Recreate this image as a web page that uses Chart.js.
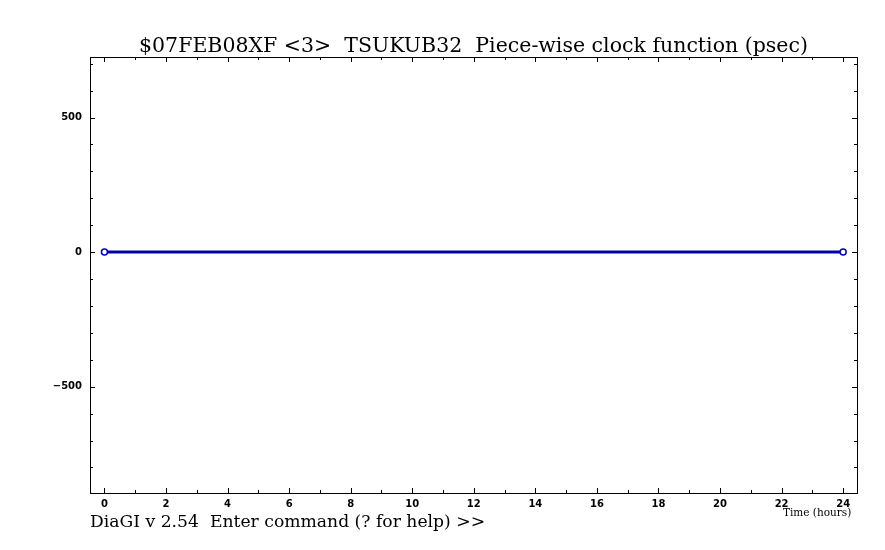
<!DOCTYPE html>
<html>
<head>
<meta charset="utf-8">
<script src="https://cdn.jsdelivr.net/npm/chart.js@4.4.1/dist/chart.umd.min.js"></script>
<style>
  html, body { margin: 0; padding: 0; background: #fff; }
  #wrap { width: 885px; height: 550px; }
</style>
</head>
<body>
<div id="wrap"><canvas id="clockCanvas" width="885" height="550"></canvas></div>
<script>
// Piece-wise clock function, two nodes
const timeHours = [0, 24];
const clockPsec = [0, 0];

const xTickValues = [0, 2, 4, 6, 8, 10, 12, 14, 16, 18, 20, 22, 24];
const yTickValues = [-500, 0, 500];

const titleText = '$07FEB08XF <3>  TSUKUB32  Piece-wise clock function (psec)';
const xAxisText = 'Time (hours)';
const promptText = 'DiaGI v 2.54  Enter command (? for help) >>';

// frame, inward tick marks and the texts around the plot
const diagiFrame = {
    id: 'diagiFrame',
    afterDraw(chart) {
        const ctx = chart.ctx;
        const a = chart.chartArea;
        const xs = chart.scales.x;
        const ys = chart.scales.y;
        ctx.save();
        ctx.strokeStyle = '#000';
        ctx.lineWidth = 1;
        ctx.strokeRect(a.left + 0.5, a.top + 0.5, a.right - a.left, a.bottom - a.top);

        ctx.beginPath();
        for (let v = 0; v <= 24; v++) {
            const px = Math.round(xs.getPixelForValue(v)) + 0.5;
            const len = (v % 2 === 0) ? 5 : 3;
            ctx.moveTo(px, a.bottom);
            ctx.lineTo(px, a.bottom - len);
            ctx.moveTo(px, a.top);
            ctx.lineTo(px, a.top + len);
        }
        for (let v = -800; v <= 700; v += 100) {
            const py = Math.round(ys.getPixelForValue(v)) + 0.5;
            const len = (v % 500 === 0) ? 5 : 3;
            ctx.moveTo(a.left, py);
            ctx.lineTo(a.left + len, py);
            ctx.moveTo(a.right, py);
            ctx.lineTo(a.right - len, py);
        }
        ctx.stroke();

        ctx.fillStyle = '#000';
        ctx.textBaseline = 'alphabetic';
        ctx.font = '20.5px "DejaVu Serif"';
        ctx.textAlign = 'center';
        ctx.fillText(titleText, (a.left + a.right) / 2, 52);

        ctx.font = '10.5px "DejaVu Serif"';
        ctx.textAlign = 'left';
        ctx.fillText(xAxisText, 783, 516);

        ctx.font = '17.2px "DejaVu Serif"';
        ctx.fillText(promptText, 90, 527);
        ctx.restore();
    }
};

const ctx = document.getElementById('clockCanvas').getContext('2d');
const chart = new Chart(ctx, {
    type: 'line',
    data: {
        datasets: [{
            data: timeHours.map((t, i) => ({ x: t, y: clockPsec[i] })),
            borderColor: '#0000a8',
            borderWidth: 3,
            pointRadius: 3,
            pointBorderWidth: 1.5,
            pointBorderColor: '#0000c8',
            pointBackgroundColor: '#ffffff',
            fill: false,
            clip: false
        }]
    },
    options: {
        responsive: false,
        animation: false,
        layout: { padding: { top: 57, right: 28, left: 0, bottom: 0 } },
        plugins: {
            legend: { display: false },
            tooltip: { enabled: false }
        },
        scales: {
            x: {
                type: 'linear',
                min: -0.47,
                max: 24.45,
                grid: { display: false, drawTicks: false, tickLength: 0 },
                border: { display: false },
                afterBuildTicks: s => { s.ticks = xTickValues.map(v => ({ value: v })); },
                afterFit: s => { s.height = 57; },
                ticks: {
                    padding: 5,
                    maxRotation: 0,
                    autoSkip: false,
                    color: '#000',
                    font: { family: 'DejaVu Sans', size: 10, weight: 'bold' }
                }
            },
            y: {
                type: 'linear',
                min: -895,
                max: 725,
                grid: { display: false, drawTicks: false, tickLength: 0 },
                border: { display: false },
                afterBuildTicks: s => { s.ticks = yTickValues.map(v => ({ value: v })); },
                afterFit: s => { s.width = 90; },
                ticks: {
                    padding: 8,
                    color: '#000',
                    font: { family: 'DejaVu Sans', size: 10, weight: 'bold' },
                    callback: v => (v < 0 ? '\u2212' + Math.abs(v) : String(v))
                }
            }
        }
    },
    plugins: [diagiFrame]
});
</script>
</body>
</html>
